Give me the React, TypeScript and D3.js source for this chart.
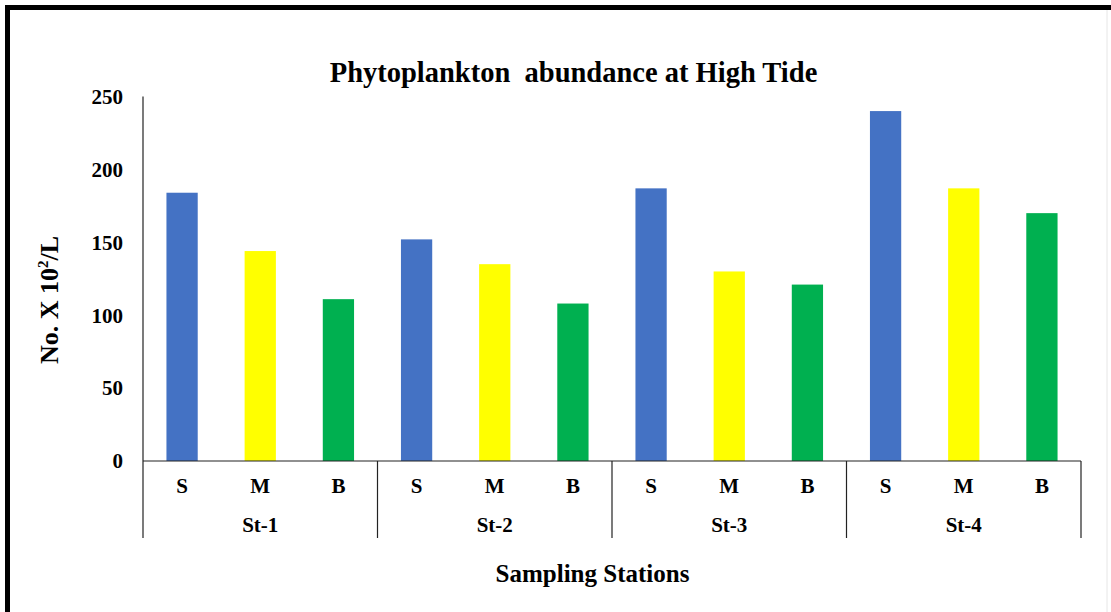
import React from "react";
import * as d3 from "d3";

const stations = ["St-1", "St-2", "St-3", "St-4"];
const depths = ["S", "M", "B"];
const surfaceValues = [184, 152, 187, 240];
const middleValues = [144, 135, 130, 187];
const bottomValues = [111, 108, 121, 170];
const yTicks = [0, 50, 100, 150, 200, 250];
const depthColors = ["#4472C4", "#FFFF00", "#00B050"];
const title = "Phytoplankton  abundance at High Tide";
const xTitle = "Sampling Stations";

const W = 1111;
const H = 612;
const plotLeft = 143;
const plotRight = 1081;
const plotTop = 96.5;
const plotBottom = 461;
const font = "'Liberation Serif', 'Times New Roman', serif";

export default function App() {
  const xOuter = d3.scaleBand<string>().domain(stations).range([plotLeft, plotRight]).padding(0);
  const xInner = d3
    .scaleBand<string>()
    .domain(depths)
    .range([0, xOuter.bandwidth()])
    .paddingInner(0.6)
    .paddingOuter(0.3);
  const y = d3.scaleLinear().domain([0, 250]).range([plotBottom, plotTop]);
  const series = [surfaceValues, middleValues, bottomValues];

  const bars: { x: number; y: number; w: number; h: number; c: string; k: string }[] = [];
  stations.forEach((st, si) => {
    depths.forEach((dp, di) => {
      const v = series[di][si];
      bars.push({
        x: (xOuter(st) as number) + (xInner(dp) as number),
        y: y(v),
        w: xInner.bandwidth(),
        h: y(0) - y(v),
        c: depthColors[di],
        k: st + dp,
      });
    });
  });

  const boundaries = [...stations.map((s) => xOuter(s) as number), plotRight];

  return (
    <svg
      width={W}
      height={H}
      style={{ position: "absolute", left: 0, top: 0, background: "#fff" }}
      fontFamily={font}
    >
      <rect x={0} y={0} width={W} height={H} fill="#fff" />
      {/* frame */}
      <line x1={5} y1={7.5} x2={W} y2={7.5} stroke="#000" strokeWidth={5} />
      <line x1={7.5} y1={5} x2={7.5} y2={H} stroke="#000" strokeWidth={5} />
      <line x1={1107} y1={10} x2={1107} y2={H} stroke="#e6e6e6" strokeWidth={1} />

      {/* title */}
      <text
        x={573.5}
        y={82}
        textAnchor="middle"
        fontSize={28.5}
        fontWeight="bold"
        style={{ whiteSpace: "pre" }}
      >
        {title}
      </text>

      {/* bars */}
      {bars.map((b) => (
        <rect key={b.k} x={b.x} y={b.y} width={b.w} height={b.h} fill={b.c} />
      ))}

      {/* y axis */}
      <line x1={plotLeft} y1={plotTop} x2={plotLeft} y2={plotBottom} stroke="#222" strokeWidth={1.2} />
      {yTicks.map((t) => (
        <text
          key={t}
          x={123}
          y={y(t)}
          dy="0.35em"
          textAnchor="end"
          fontSize={21}
          fontWeight="bold"
        >
          {t}
        </text>
      ))}
      <text
        transform={`translate(58, ${300}) rotate(-90)`}
        textAnchor="middle"
        fontSize={26}
        fontWeight="bold"
      >
        No. X 10
        <tspan fontSize={15} dy={-10}>2</tspan>
        <tspan dy={10}>/L</tspan>
      </text>

      {/* x axis */}
      <line x1={plotLeft} y1={plotBottom} x2={plotRight} y2={plotBottom} stroke="#222" strokeWidth={1.2} />
      {boundaries.map((bx, i) => (
        <line key={i} x1={bx} y1={plotBottom} x2={bx} y2={538} stroke="#222" strokeWidth={1.2} />
      ))}
      {stations.map((st) =>
        depths.map((dp) => (
          <text
            key={st + dp}
            x={(xOuter(st) as number) + (xInner(dp) as number) + xInner.bandwidth() / 2}
            y={493}
            textAnchor="middle"
            fontSize={21}
            fontWeight="bold"
          >
            {dp}
          </text>
        ))
      )}
      {stations.map((st) => (
        <text
          key={st}
          x={(xOuter(st) as number) + xOuter.bandwidth() / 2}
          y={532}
          textAnchor="middle"
          fontSize={21}
          fontWeight="bold"
        >
          {st}
        </text>
      ))}
      <text x={592.5} y={582} textAnchor="middle" fontSize={25} fontWeight="bold">
        {xTitle}
      </text>
    </svg>
  );
}
